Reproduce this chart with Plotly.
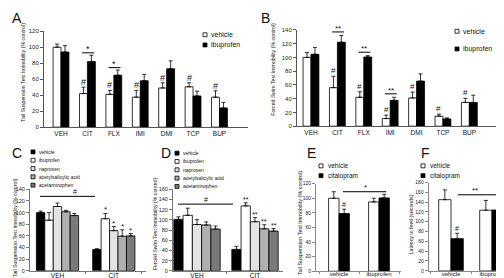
import plotly.graph_objects as go

FONT = "Liberation Sans, Arial, sans-serif"
W, H = 504, 278

# ---------------- data ----------------
drugs_AB = ["VEH", "CIT", "FLX", "IMI", "DMI", "TCP", "BUP"]
A_vehicle = [100, 42, 41, 37.5, 49, 50.5, 37.5]
A_vehicle_err = [4, 8, 5, 8.5, 6.5, 5, 8]
A_ibuprofen = [94, 82, 65, 58, 73, 39, 24]
A_ibuprofen_err = [8, 8, 6.5, 8, 10, 6, 7]
A_hash = ["", "#", "#", "#", "#", "#", "#"]
A_star = ["", "*", "*", "", "", "", ""]

B_vehicle = [100, 56, 42, 11, 41, 14.5, 34.5]
B_vehicle_err = [7, 16.5, 8, 5, 8.5, 3, 6]
B_ibuprofen = [104.5, 122, 100.5, 37.5, 65.5, 10.5, 34.5]
B_ibuprofen_err = [10, 10, 2, 4.5, 10.5, 1.5, 10.5]
B_hash = ["", "#", "#", "#", "#", "#", "#"]
B_star = ["", "**", "**", "**", "", "", ""]

groups_CD = ["VEH", "CIT"]
nsaid_names = ["vehicle", "ibuprofen", "naproxen", "acetylsalicylic acid", "acetaminophen"]
C_vehicle = [100, 36.5]
C_vehicle_err = [2.5, 1.5]
C_ibuprofen = [87, 89.5]
C_ibuprofen_err = [13, 9]
C_naproxen = [110.5, 69]
C_naproxen_err = [6, 7]
C_asa = [101.5, 59.5]
C_asa_err = [2.5, 11]
C_acetaminophen = [95, 60]
C_acetaminophen_err = [3.5, 4]
C_star = ["", "*", "*", "*", "*"]

D_vehicle = [101, 42]
D_vehicle_err = [5, 6]
D_ibuprofen = [109, 127.5]
D_ibuprofen_err = [14, 6]
D_naproxen = [91, 96.5]
D_naproxen_err = [9.5, 8]
D_asa = [90, 82.5]
D_asa_err = [6, 8]
D_acetaminophen = [82, 78]
D_acetaminophen_err = [6, 5]
D_star = ["", "**", "**", "**", "**"]

groups_EF = ["vehicle", "ibuprofen"]
E_vehicle = [100, 95]
E_vehicle_err = [9, 5]
E_citalopram = [79, 100.5]
E_citalopram_err = [6, 5]

F_vehicle = [145, 123.5]
F_vehicle_err = [20, 20]
F_citalopram = [65.5, 124]
F_citalopram_err = [11, 11]

# ---------------- helpers ----------------
def px(x):
    return x / W

def py(y):
    return 1 - y / H

fig = go.Figure()

def add_bars(xa, ya, cats, series, errs, colors, width):
    n = len(series)
    for k, (vals, err, col) in enumerate(zip(series, errs, colors)):
        fig.add_trace(go.Bar(
            x=cats, y=vals, xaxis=xa, yaxis=ya,
            width=width, offset=-n * width / 2 + k * width,
            marker=dict(color=col, line=dict(color="black", width=0.8)),
            error_y=dict(type="data", array=err, arrayminus=[0] * len(err),
                         symmetric=False, color="black", thickness=0.8, width=2),
            showlegend=False, hoverinfo="skip"))

def bar_center(i, k, n, width):
    return i - n * width / 2 + (k + 0.5) * width

annotations = []
shapes = []

def text(x, y, s, size, xref="paper", yref="paper", xanchor="center", yanchor="middle",
         angle=0, yshift=0, color="#111"):
    annotations.append(dict(x=x, y=y, xref=xref, yref=yref, text=s, showarrow=False,
                            xanchor=xanchor, yanchor=yanchor, textangle=angle, yshift=yshift,
                            font=dict(family=FONT, size=size, color=color)))

def hline(x0, x1, y, xref, yref):
    shapes.append(dict(type="line", x0=x0, x1=x1, y0=y, y1=y, xref=xref, yref=yref,
                       line=dict(color="black", width=1)))

def legend_item(bx, by, label, fill, size, tx):
    shapes.append(dict(type="rect", xref="paper", yref="paper",
                       x0=px(bx), x1=px(bx + 4), y0=py(by + 2), y1=py(by - 2),
                       fillcolor=fill, line=dict(color="black", width=0.8)))
    text(px(tx), py(by), label, size, xanchor="left")

def panel_letter(x, y, s):
    text(px(x), py(y), s, 14, xanchor="left", yanchor="top", yshift=5)

layout_axes = {}

def set_axes(sfx, xdom, ydom, xrange, yrange, dtick, cats, tickfont, catfont,
             boundaries, axcolor, standoff):
    xk = "xaxis" + sfx
    yk = "yaxis" + sfx
    layout_axes[xk] = dict(
        domain=xdom, range=xrange, type="category", categoryorder="array",
        categoryarray=cats, anchor="y" + sfx, showline=True, linecolor=axcolor,
        linewidth=1, showgrid=False, zeroline=False,
        ticks="outside" if boundaries else "", tickson="boundaries" if boundaries else "labels",
        ticklen=2, tickcolor=axcolor, fixedrange=True, ticklabelstandoff=standoff,
        tickfont=dict(size=catfont, family=FONT, color="#111"))
    layout_axes[yk] = dict(
        domain=ydom, range=yrange, dtick=dtick, anchor="x" + sfx, showline=True,
        linecolor=axcolor, linewidth=1, showgrid=False, zeroline=False,
        ticks="outside", ticklen=3, tickcolor=axcolor, fixedrange=True,
        tickfont=dict(size=tickfont, family=FONT, color="#222"))

# ---------------- panel A ----------------
wA = 0.3
add_bars("x", "y", drugs_AB, [A_vehicle, A_ibuprofen], [A_vehicle_err, A_ibuprofen_err],
         ["white", "black"], wA)
set_axes("", [px(36), px(240)], [py(118.7), py(20.7)], [-0.644, 7.08], [0, 120], 20,
         drugs_AB, 6, 6.5, False, "#555", 0)
for i, s in enumerate(A_hash):
    if s:
        text(bar_center(i, 0, 2, wA), A_vehicle[i] + A_vehicle_err[i], s, 9, "x", "y",
             yanchor="bottom", yshift=-2)
for i, s in enumerate(A_star):
    if s:
        ly = A_ibuprofen[i] + A_ibuprofen_err[i] + 3
        hline(i - 0.2, i + 0.25, ly, "x", "y")
        text(i + 0.02, ly, s, 9, "x", "y", yanchor="bottom", yshift=-3)
text(px(15), py(63), "Tail Suspension Test Immobility (% control)", 5.2, angle=-90)
legend_item(195, 24.3, "vehicle", "white", 7, 201)
legend_item(195, 34.7, "ibuprofen", "black", 7, 201)
panel_letter(2, 2, "A")

# ---------------- panel B ----------------
wB = 0.3
add_bars("x2", "y2", drugs_AB, [B_vehicle, B_ibuprofen], [B_vehicle_err, B_ibuprofen_err],
         ["white", "black"], wB)
set_axes("2", [px(289), px(493)], [py(117.7), py(19.3)], [-0.53, 7.2], [0, 140], 20,
         drugs_AB, 6, 6.5, False, "#555", 0)
for i, s in enumerate(B_hash):
    if s:
        text(bar_center(i, 0, 2, wB), B_vehicle[i] + B_vehicle_err[i], s, 8, "x2", "y2",
             yanchor="bottom", yshift=-1)
for i, s in enumerate(B_star):
    if s:
        ly = B_ibuprofen[i] + B_ibuprofen_err[i] + 5
        hline(i - 0.2, i + 0.25, ly, "x2", "y2")
        text(i + 0.02, ly, s, 8, "x2", "y2", yanchor="bottom", yshift=-3)
text(px(265), py(60), "Forced Swim Test Immobility (% control)", 5.2, angle=-90)
legend_item(447, 20.7, "vehicle", "white", 7, 453)
legend_item(447, 38.8, "ibuprofen", "black", 7, 453)
panel_letter(251, 2, "B")

# ---------------- panel C ----------------
nsaid_colors = ["black", "white", "#e3e3e3", "#b0b0b0", "#7a7a7a"]
wC = 0.15
C_series = [C_vehicle, C_ibuprofen, C_naproxen, C_asa, C_acetaminophen]
C_errs = [C_vehicle_err, C_ibuprofen_err, C_naproxen_err, C_asa_err, C_acetaminophen_err]
add_bars("x3", "y3", groups_CD, C_series, C_errs, nsaid_colors, wC)
set_axes("3", [px(22), px(138)], [py(265.5), py(182.3)], [-0.488, 1.572], [0, 140], 20,
         groups_CD, 5.5, 6.5, True, "#777", -2)
for k, s in enumerate(C_star):
    if s:
        text(bar_center(1, k, 5, wC), C_series[k][1] + C_errs[k][1], s, 8, "x3", "y3",
             yanchor="bottom", yshift=-3)
hline(-0.31, 0.666, 128, "x3", "y3")
text(0.31, 128, "#", 7, "x3", "y3", yanchor="bottom", yshift=-1)
text(px(7), py(222), "Tail Suspension Test Immobility (% control)", 5.2, angle=-90)
for k, (nm, col) in enumerate(zip(nsaid_names, nsaid_colors)):
    legend_item(23, 144 + 8.5 * k, nm, col, 5, 29)
panel_letter(2, 140, "C")

# ---------------- panel D ----------------
wD = 0.16
D_series = [D_vehicle, D_ibuprofen, D_naproxen, D_asa, D_acetaminophen]
D_errs = [D_vehicle_err, D_ibuprofen_err, D_naproxen_err, D_asa_err, D_acetaminophen_err]
add_bars("x4", "y4", groups_CD, D_series, D_errs, nsaid_colors, wD)
set_axes("4", [px(165), px(275)], [py(265.5), py(182.3)], [-0.414, 1.483], [0, 160], 20,
         groups_CD, 5.5, 6.5, True, "#777", -2)
for k, s in enumerate(D_star):
    if s:
        text(bar_center(1, k, 5, wD), D_series[k][1] + D_errs[k][1], s, 7, "x4", "y4",
             yanchor="bottom", yshift=-2)
hline(-0.33, 0.62, 131, "x4", "y4")
text(0.16, 131, "#", 7, "x4", "y4", yanchor="bottom", yshift=-1)
text(px(147), py(218), "Forced Swim Test Immobility (% control)", 5.2, angle=-90)
for k, (nm, col) in enumerate(zip(nsaid_names, nsaid_colors)):
    legend_item(167, 145.3 + 8.5 * k, nm, col, 5, 173)
panel_letter(151, 140, "D")

# ---------------- panel E ----------------
wE = 0.26
add_bars("x5", "y5", groups_EF, [E_vehicle, E_citalopram], [E_vehicle_err, E_citalopram_err],
         ["white", "black"], wE)
set_axes("5", [px(308), px(393)], [py(266), py(176.5)], [-0.575, 1.55], [0, 120], 20,
         groups_EF, 5, 6, True, "#888", -3)
text(bar_center(0, 1, 2, wE), E_citalopram[0] + E_citalopram_err[0], "#", 7, "x5", "y5",
     yanchor="bottom", yshift=-1)
hline(0.1, 1.18, 109, "x5", "y5")
text(0.65, 109, "*", 8, "x5", "y5", yanchor="bottom", yshift=-2)
text(px(292), py(217), "Tail Suspension Test Immobility (% control)", 5.5, angle=-90)
legend_item(311, 158.3, "vehicle", "white", 6.5, 318)
legend_item(311, 168.3, "citalopram", "black", 6.5, 318)
panel_letter(297, 140, "E")

# ---------------- panel F ----------------
wF = 0.3
add_bars("x6", "y6", groups_EF, [F_vehicle, F_citalopram], [F_vehicle_err, F_citalopram_err],
         ["white", "black"], wF)
set_axes("6", [px(420.7), px(503)], [py(265.5), py(175.3)], [-0.544, 1.463], [0, 180], 20,
         groups_EF, 5, 6, True, "#888", -3)
text(bar_center(0, 1, 2, wF), F_citalopram[0] + F_citalopram_err[0], "#", 7, "x6", "y6",
     yanchor="bottom", yshift=-1)
hline(0.17, 1.32, 155, "x6", "y6")
text(0.59, 155, "**", 8, "x6", "y6", yanchor="bottom", yshift=-2)
text(px(403), py(218), "Latency to feed (seconds)", 5.2, angle=-90)
legend_item(413, 158.3, "vehicle", "white", 6.5, 420)
legend_item(413, 168.3, "citalopram", "black", 6.5, 420)
panel_letter(411, 140, "F")

fig.update_layout(
    width=W, height=H, margin=dict(l=0, r=0, t=0, b=0),
    paper_bgcolor="white", plot_bgcolor="white",
    barmode="overlay", showlegend=False,
    font=dict(family=FONT, color="#111"),
    annotations=annotations, shapes=shapes,
    **layout_axes)

fig.write_html("out.html", config={"displayModeBar": False})
